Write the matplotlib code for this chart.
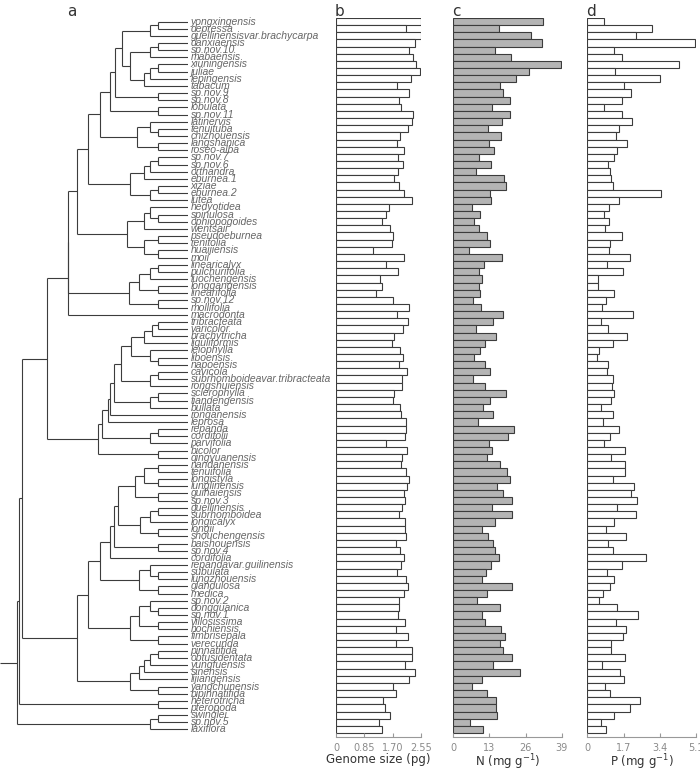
import matplotlib
matplotlib.use("Agg")
import matplotlib.pyplot as plt

taxa = [
    "yongxingensis", "depressa", "guellinensisvar.brachycarpa", "danxiaensis", "sp.nov.10",
    "mabaensis", "xiuningensis", "juliae", "lepingensis", "tabacum",
    "sp.nov.9", "sp.nov.8", "lobulata", "sp.nov.11", "latinervis",
    "tenuituba", "chizhouensis", "langshanica", "roseo-alba", "sp.nov.7",
    "sp.nov.6", "orthandra", "eburnea.1", "xiziae", "eburnea.2",
    "lutea", "hedyotidea", "spinulosa", "ophiopogoides", "wentsaii",
    "pseudoeburnea", "renifolia", "huaijiensis", "moii", "linearicalyx",
    "pulchurifolia", "luochengensis", "longgangensis", "linearifolia", "sp.nov.12",
    "mollifolia", "macrodonta", "tribracteata", "varicolor", "brachytricha",
    "liguliformis", "leiophylla", "liboensis", "napoensis", "cavicola",
    "subrhomboideavar.tribracteata", "rongshuiensis", "sclerophylla", "tiandengensis", "bullata",
    "ronganensis", "leprosa", "repanda", "cordifolii", "parvifolia",
    "bicolor", "qingyuanensis", "nandanensis", "tenuifolia", "longistyla",
    "lunglinensis", "guihaiensis", "sp.nov.3", "guellinensis", "subrhomboidea",
    "longicalyx", "longii", "shouchengensis", "baishouensis", "sp.nov.4",
    "cordifolia", "repandavar.guilinensis", "subulata", "lungzhouensis", "glandulosa",
    "medica", "sp.nov.2", "dongguanica", "sp.nov.1", "villosissima",
    "hochiensis", "fimbrisepala", "verecunda", "pinnatifida", "obtusidentata",
    "yungfuensis", "sinensis", "lijiangensis", "yangchunensis", "bipinnatifida",
    "heterotricha", "pteropoda", "swinglei", "sp.nov.5", "laxiflora",
]

genome = [
    2.55, 2.10, 2.55, 2.37, 2.19, 2.31, 2.40, 2.52, 2.24, 1.83,
    2.20, 1.89, 1.95, 2.31, 2.28, 2.16, 1.92, 1.82, 2.04, 1.86,
    2.01, 1.85, 1.74, 1.89, 2.04, 2.27, 1.59, 1.49, 1.39, 1.63,
    1.72, 1.67, 1.12, 2.04, 1.50, 1.87, 1.32, 1.39, 1.20, 1.72,
    2.19, 1.82, 2.15, 2.01, 1.74, 1.68, 1.92, 2.00, 1.90, 2.14,
    1.99, 1.99, 1.75, 1.72, 1.92, 1.95, 2.10, 2.11, 2.06, 1.51,
    2.13, 1.98, 1.95, 2.11, 2.19, 2.14, 2.05, 2.06, 1.98, 1.90,
    2.08, 2.08, 2.10, 1.81, 1.91, 2.05, 1.96, 1.83, 2.10, 2.15,
    2.03, 1.89, 1.89, 1.86, 2.06, 1.79, 2.17, 1.81, 2.29, 2.29,
    2.08, 2.37, 2.19, 1.72, 1.80, 1.40, 1.47, 1.63, 1.30, 1.38,
]

nitrogen = [
    32.4, 16.6, 28.0, 32.0, 15.1, 20.8, 38.6, 27.4, 22.4, 16.7,
    18.0, 20.5, 13.9, 20.5, 17.6, 12.6, 17.3, 12.7, 14.5, 9.4,
    13.4, 8.2, 18.4, 19.0, 13.3, 13.7, 6.6, 9.5, 7.6, 9.4,
    12.1, 13.2, 5.5, 17.6, 11.2, 9.2, 10.3, 9.1, 9.5, 7.2,
    10.0, 18.0, 14.4, 8.2, 15.2, 11.5, 9.5, 7.6, 11.5, 13.3,
    7.2, 11.3, 19.0, 13.3, 10.6, 14.4, 8.9, 21.8, 19.8, 13.0,
    13.9, 12.2, 16.9, 19.2, 20.5, 15.8, 17.8, 21.0, 14.0, 21.2,
    14.9, 10.4, 12.6, 14.4, 15.1, 16.6, 13.4, 11.6, 10.4, 21.2,
    12.1, 8.5, 16.7, 10.4, 11.4, 17.3, 18.5, 16.8, 18.0, 21.2,
    14.4, 24.0, 10.4, 6.8, 12.1, 15.2, 15.2, 15.7, 6.1, 10.6,
]

phosphorus = [
    0.80, 3.03, 2.30, 5.05, 1.27, 1.64, 4.29, 1.30, 3.43, 1.70,
    2.05, 1.64, 0.80, 1.61, 2.11, 1.50, 1.33, 1.88, 1.41, 1.27,
    0.95, 1.08, 1.13, 1.22, 3.46, 1.49, 1.03, 0.78, 1.02, 0.84,
    1.63, 1.05, 1.03, 2.02, 0.92, 1.66, 0.52, 0.52, 1.24, 0.88,
    0.69, 2.13, 0.66, 0.95, 1.88, 1.22, 0.55, 0.45, 0.97, 0.92,
    1.22, 1.17, 1.27, 1.13, 0.64, 1.19, 0.75, 1.50, 1.08, 0.80,
    1.75, 1.13, 1.75, 1.75, 1.19, 2.21, 2.06, 2.33, 1.41, 2.27,
    1.24, 0.89, 1.83, 0.95, 1.22, 2.77, 1.63, 0.94, 1.27, 1.08,
    0.75, 0.55, 1.41, 2.39, 1.33, 1.83, 1.69, 1.11, 1.13, 1.75,
    0.67, 1.55, 1.72, 0.84, 1.08, 2.47, 2.02, 1.27, 0.66, 0.88,
]


def N(depth, *kids):
    # internal node: depth from root (root = 0, tips = 100), leaves are 1-based taxon numbers
    return (depth, kids)


clade_1_10 = N(61.2, N(77.7, N(82.5, 1, 2), 3),
               N(66.0, N(77.7, N(82.5, 4, 5), 6),
                 N(74.2, N(77.7, N(82.5, 7, 8), 9), 10)))
clade_1_14 = N(54.4, N(57.3, clade_1_10, N(82.5, 11, 12)), N(82.5, 13, 14))
clade_15_19 = N(70.3, N(77.7, 15, N(82.5, 16, 17)), N(82.5, 18, 19))
clade_20_26 = N(66.0, N(74.2, N(77.7, N(82.5, 20, 21), 22), 23),
                N(77.7, N(82.5, 24, 25), 26))
clade_1_26 = N(41.7, N(48.5, clade_1_14, clade_15_19), clade_20_26)
clade_27_34 = N(64.5, N(74.2, N(77.7, 27, N(82.5, 28, 29)), 30),
                N(74.2, N(82.5, 31, 32), N(82.5, 33, 34)))
clade_35_41 = N(65.6, N(71.5, N(77.7, N(82.5, 35, 36), 37), N(82.5, 38, 39)),
                N(82.5, 40, 41))
clade_1_42 = N(29.7, N(30.1, N(35.3, clade_1_26, clade_27_34), clade_35_41), 42)

clade_43_49 = N(66.4, N(74.2, N(78.7, N(82.5, 43, 44), 45), 46),
                N(77.7, 47, N(82.5, 48, 49)))
clade_50_52 = N(77.7, N(82.5, 50, 51), 52)
clade_43_57 = N(53.4, N(54.4, N(56.7, N(60.6, clade_43_49, clade_50_52),
                                N(77.7, N(82.5, 53, 54), 55)), 56), 57)
clade_43_62 = N(47.6, N(49.5, clade_43_57, N(77.7, N(82.5, 58, 59), 60)),
                N(82.5, 61, 62))

clade_63_73 = N(59.2, N(68.9, N(74.2, N(82.5, 63, 64), N(82.5, 65, 66)), N(82.5, 67, 68)),
                N(71.9, N(77.7, N(82.5, 69, 70), 71), N(82.5, 72, 73)))
clade_63_76 = N(54.4, N(56.7, clade_63_73, N(82.5, 74, 75)), 76)
clade_77_81 = N(71.0, N(77.7, 77, N(82.5, 78, 79)), N(82.5, 80, 81))
clade_82_88 = N(66.0, N(71.0, N(77.7, 82, N(82.5, 83, 84)), N(82.5, 85, 86)),
                N(82.5, 87, 88))
clade_89_95 = N(66.0, N(71.0, N(74.2, N(77.7, N(82.5, 89, 90), 91), 92), 93),
                N(82.5, 94, 95))
clade_63_95 = N(35.3, N(41.7, N(48.5, clade_63_76, clade_77_81), clade_82_88), clade_89_95)

tree = N(0.0,
         N(1.5, N(2.9, N(17.5, clade_1_42, clade_43_62), clade_63_95), N(82.5, 96, 97)),
         N(77.7, N(82.5, 98, 99), 100))
ROOT_STUB = -9.7
TIP_DEPTH = 100.0

FIG_W, FIG_H = 700, 772
TOP_PX, BOT_PX = 18, 737
n = len(taxa)
YLIM = (n - 0.5 + 0.56, -0.5)
LINE = '#3c3c3c'


def ax_rect(x0, x1):
    return [x0 / FIG_W, 1 - BOT_PX / FIG_H, (x1 - x0) / FIG_W, (BOT_PX - TOP_PX) / FIG_H]


def draw_node(ax, node, parent_depth=None):
    if isinstance(node, int):
        y, depth = node - 1, TIP_DEPTH
    else:
        depth, kids = node
        ys = [draw_node(ax, k, depth) for k in kids]
        y = (ys[0] + ys[-1]) / 2
        ax.plot([depth, depth], [ys[0], ys[-1]], color=LINE, lw=0.8, solid_capstyle='butt')
    start = ROOT_STUB if parent_depth is None else parent_depth
    ax.plot([start, depth], [y, y], color=LINE, lw=0.8, solid_capstyle='butt')
    return y


fig = plt.figure(figsize=(FIG_W / 100, FIG_H / 100), dpi=100)

ax_tree = fig.add_axes(ax_rect(0, 188.3))
draw_node(ax_tree, tree)
ax_tree.set_xlim(ROOT_STUB, TIP_DEPTH)
ax_tree.set_ylim(*YLIM)
ax_tree.axis('off')
for i, name in enumerate(taxa):
    ax_tree.text(TIP_DEPTH + 1.3, i, name, fontsize=7.5, style='italic', color='#666666',
                 va='center', ha='left', family='Liberation Sans', clip_on=False)

panels = [
    (genome, (336, 421), 2.55, [0, 0.85, 1.70, 2.55], ['0', '0.85', '1.70', '2.55'],
     'Genome size (pg)', 'white'),
    (nitrogen, (453.3, 561.7), 39, [0, 13, 26, 39], ['0', '13', '26', '39'],
     'N (mg g$^{-1}$)', '#b4b4b4'),
    (phosphorus, (587.3, 696), 5.1, [0, 1.7, 3.4, 5.1], ['0', '1.7', '3.4', '5.1'],
     'P (mg g$^{-1}$)', 'white'),
]

for values, (x0, x1), xmax, ticks, ticklabels, xlabel, fill in panels:
    ax = fig.add_axes(ax_rect(x0, x1))
    ax.barh(range(n), values, height=1.0, color=fill, edgecolor=LINE, linewidth=0.8)
    ax.set_xlim(0, xmax)
    ax.set_ylim(*YLIM)
    for s in ['top', 'right', 'left']:
        ax.spines[s].set_visible(False)
    ax.spines['bottom'].set_color('#999999')
    ax.spines['bottom'].set_linewidth(0.8)
    ax.set_yticks([])
    ax.set_xticks(ticks)
    ax.set_xticklabels(ticklabels)
    ax.tick_params(axis='x', direction='in', length=3, color='#999999', labelsize=7,
                   labelcolor='#8a8a8a', pad=4)
    ax.set_xlabel(xlabel, fontsize=8.5, color='#333333', labelpad=0)
    ax.patch.set_visible(False)

for letter, x in [('a', 72), ('b', 339), ('c', 456), ('d', 591)]:
    fig.text(x / FIG_W, 1 - 11 / FIG_H, letter, fontsize=11, color='#333333',
             ha='center', va='center')

fig.savefig('out.png', dpi=100)
